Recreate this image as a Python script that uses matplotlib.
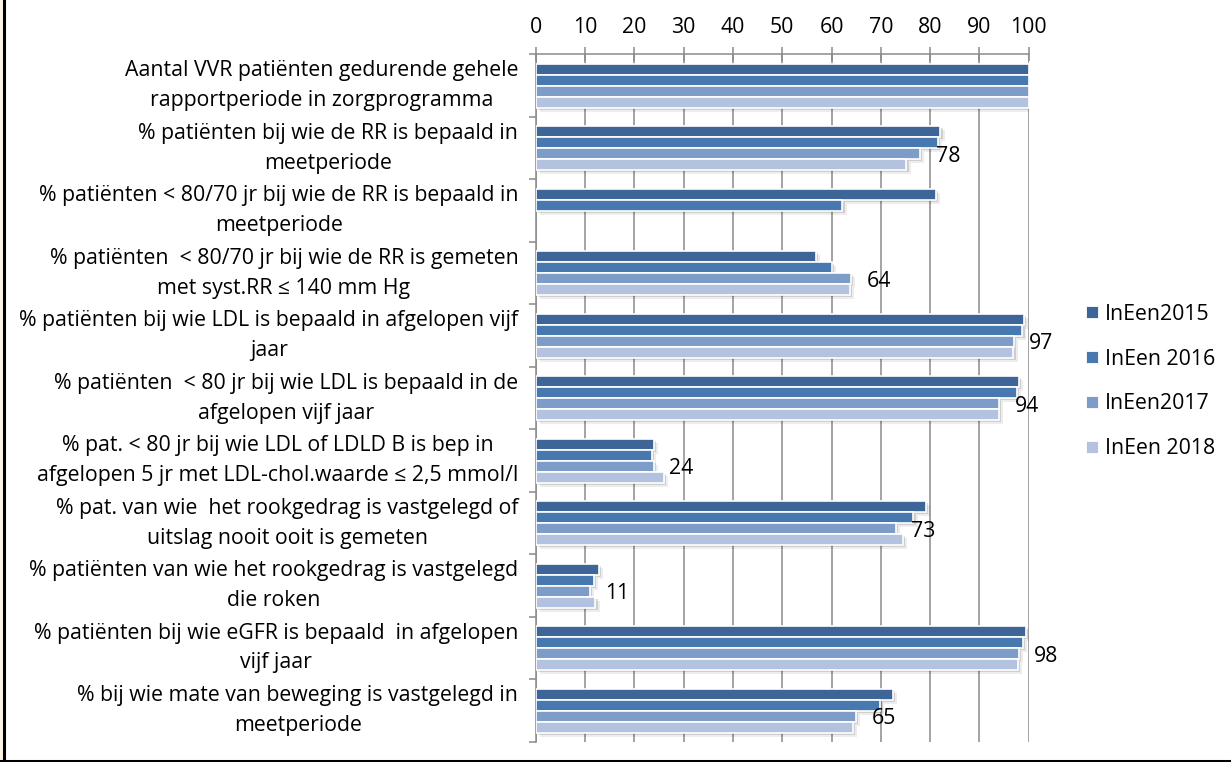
import numpy as np
import matplotlib

matplotlib.use("Agg")
import matplotlib.pyplot as plt
import matplotlib.patheffects as pe
from matplotlib.lines import Line2D
from matplotlib.patches import Rectangle


categories = [
    "Aantal VVR patiënten gedurende gehele\nrapportperiode in zorgprogramma",
    "% patiënten bij wie de RR is bepaald in\nmeetperiode",
    "% patiënten < 80/70 jr bij wie de RR is bepaald in\nmeetperiode",
    "% patiënten  < 80/70 jr bij wie de RR is gemeten\nmet syst.RR ≤ 140 mm Hg",
    "% patiënten bij wie LDL is bepaald in afgelopen vijf\njaar",
    "% patiënten  < 80 jr bij wie LDL is bepaald in de\nafgelopen vijf jaar",
    "% pat. < 80 jr bij wie LDL of LDLD B is bep in\nafgelopen 5 jr met LDL-chol.waarde ≤ 2,5 mmol/l",
    "% pat. van wie  het rookgedrag is vastgelegd of\nuitslag nooit ooit is gemeten",
    "% patiënten van wie het rookgedrag is vastgelegd\ndie roken",
    "% patiënten bij wie eGFR is bepaald  in afgelopen\nvijf jaar",
    "% bij wie mate van beweging is vastgelegd in\nmeetperiode",
]

series_names = ["InEen2015", "InEen 2016", "InEen2017", "InEen 2018"]
nan = np.nan
ineen_2015 = [100, 82.1, 81.1, 56.8, 99.0, 98.0, 24.0, 79.2, 12.8, 99.5, 72.4]
ineen_2016 = [100, 81.5, 62.2, 60.0, 98.7, 97.6, 23.6, 76.6, 11.8, 98.8, 69.9]
ineen_2017 = [100, 78, nan, 64, 97, 94, 24, 73, 11, 98, 65]
ineen_2018 = [100, 75.2, nan, 63.8, 96.9, 94.0, 26.0, 74.4, 12.1, 97.8, 64.4]
# only the 2017 series carries value labels (none on the first row)
labelled_rows = [1, 3, 4, 5, 6, 7, 8, 9, 10]

colors = ["#3D6597", "#4878B0", "#7E9CC8", "#B3C2DE"]
grid_grey = "#8A8A8A"
fs = 15.3

plt.rcParams["font.family"] = ["Open Sans", "DejaVu Sans"]
plt.rcParams["font.size"] = fs

fig = plt.figure(figsize=(12.31, 7.62), dpi=100)
ax = fig.add_axes([0.43518, 0.02651, 0.40049, 0.90197])

y = np.arange(len(categories))
h = 0.176
# soft drop shadow under each bar
shadow = [
    pe.SimplePatchShadow(offset=(3.0, -3.0), shadow_rgbFace="black", alpha=0.07),
    pe.SimplePatchShadow(offset=(1.6, -1.6), shadow_rgbFace="black", alpha=0.13),
    pe.Normal(),
]

all_series = [ineen_2015, ineen_2016, ineen_2017, ineen_2018]
for k, (vals, col) in enumerate(zip(all_series, colors)):
    bars = ax.barh(y + (k - 1.5) * h, vals, height=h, color=col,
                   edgecolor="white", linewidth=1.2, zorder=3)
    for b in bars:
        b.set_path_effects(shadow)

for i in labelled_rows:
    v = ineen_2017[i]
    ax.annotate(f"{v:.0f}", xy=(v, y[i] + 0.5 * h), xytext=(11, -2),
                textcoords="offset points", ha="left", va="center",
                fontsize=fs, zorder=5)

ax.set_xlim(0, 100)
ax.set_ylim(len(categories) - 0.5, -0.5)

ax.xaxis.tick_top()
ax.set_xticks(np.arange(0, 101, 10))
ax.tick_params(axis="x", direction="inout", length=9.5, width=1.1,
               color=grid_grey, pad=7, labelsize=fs)
ax.grid(True, axis="x", color=grid_grey, linewidth=1.1)
ax.set_axisbelow(True)

ax.set_yticks(y)
ax.set_yticklabels(categories, multialignment="center", linespacing=1.55, va="center")
ax.set_yticks(np.arange(-0.5, len(categories), 1), minor=True)
ax.tick_params(axis="y", which="major", length=0, pad=12.5, labelsize=fs)
ax.tick_params(axis="y", which="minor", direction="out", length=5, width=1.1,
               color=grid_grey)

for side in ("right", "bottom"):
    ax.spines[side].set_visible(False)
for side in ("top", "left"):
    ax.spines[side].set_color(grid_grey)
    ax.spines[side].set_linewidth(1.1)

handles = [Line2D([], [], marker="s", linestyle="none", markersize=8,
                  markerfacecolor=c, markeredgecolor="white", markeredgewidth=0.6)
           for c in colors]
fig.legend(handles, series_names, loc="center left",
           bbox_to_anchor=(0.8826, 0.4993), frameon=False, fontsize=fs,
           handlelength=0.55, handletextpad=0.3, labelspacing=1.12,
           borderpad=0, borderaxespad=0)

# frame edge on the left and bottom of the figure
fig.add_artist(Rectangle((0, 0), 0.0025, 1, transform=fig.transFigure,
                         facecolor="#FBF3E4", edgecolor="none"))
fig.add_artist(Line2D([0.0036, 0.0036], [0, 1], transform=fig.transFigure,
                      color="black", linewidth=2.2))
fig.add_artist(Line2D([0, 1], [0.0015, 0.0015], transform=fig.transFigure,
                      color="black", linewidth=2.2))

fig.savefig("out.png", dpi=100)
plt.close(fig)
